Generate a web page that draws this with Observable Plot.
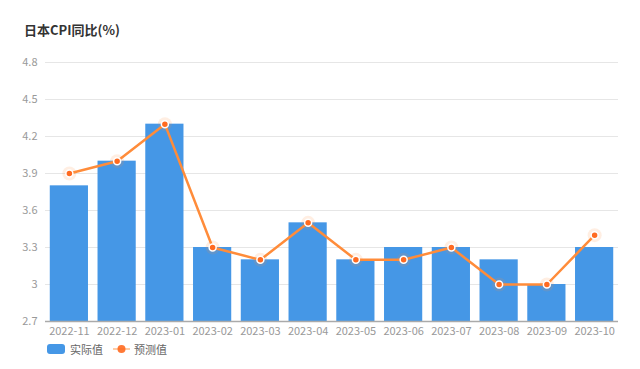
<!DOCTYPE html>
<html><head><meta charset="utf-8">
<script src="https://cdn.jsdelivr.net/npm/d3@7"></script>
<script src="https://cdn.jsdelivr.net/npm/@observablehq/plot@0.6"></script>
<style>
body{margin:0;background:#fff;font-family:"Noto Sans CJK SC","Noto Sans",sans-serif;}
#wrap{position:relative;width:640px;height:369px;overflow:hidden;}
#title{position:absolute;left:24px;top:20px;font-size:13px;font-weight:bold;color:#333;}
#legend{position:absolute;left:47px;top:341px;font-size:11px;color:#666;display:flex;align-items:center;}
#legend .sw{width:18px;height:10px;border-radius:3px;background:#4597e6;display:inline-block;margin-right:5px;}
#legend svg{margin:0 4px 0 10px;}
</style></head>
<body><div id="wrap"><div id="chart"></div><div id="title">日本CPI同比(%)</div>
<div id="legend"><span class="sw"></span><span>实际值</span>
<svg width="17" height="10"><line x1="0" y1="5" x2="17" y2="5" stroke="#ff8c3a" stroke-width="1.5" opacity="0.6"/><circle cx="8.5" cy="5" r="4" fill="#ff6a20" opacity="0.9"/></svg><span>预测值</span></div>
</div>
<script>
const months = ["2022-11","2022-12","2023-01","2023-02","2023-03","2023-04","2023-05","2023-06","2023-07","2023-08","2023-09","2023-10"];
const actual = [3.8,4.0,4.3,3.3,3.2,3.5,3.2,3.3,3.3,3.2,3.0,3.3];
const forecast = [3.9,4.0,4.3,3.3,3.2,3.5,3.2,3.2,3.3,3.0,3.0,3.4];
const yTicks = [2.7,3.0,3.3,3.6,3.9,4.2,4.5,4.8];

const data = months.map((m,i)=>({m, a:actual[i], f:forecast[i]}));

const chart = Plot.plot({
  width:640, height:369,
  marginTop:62, marginBottom:48, marginLeft:45, marginRight:22,
  style:{fontFamily:'"Noto Sans CJK SC","Noto Sans",sans-serif', fontSize:"11px", color:"#999", background:"#fff"},
  x:{domain:months, paddingInner:0.2, paddingOuter:0.1, round:false, label:null, tickSize:0, tickPadding:6},
  y:{domain:[2.7,4.8], ticks:yTicks, tickFormat:d=>String(+d.toFixed(1)), label:null, tickSize:0, tickPadding:8},
  marks:[
    Plot.gridY(yTicks.slice(1), {stroke:"#e6e6e6", strokeOpacity:1, strokeWidth:1}),
    Plot.barY(data, {x:"m", y1:2.7, y2:"a", fill:"#4597e6"}),
    Plot.ruleY([2.7], {stroke:"#aaa", strokeWidth:1.5}),
    Plot.line(data, {x:"m", y:"f", stroke:"#ff8c3a", strokeWidth:2.5, curve:"linear"}),
    Plot.dot(data, {x:"m", y:"f", r:7, fill:"#ff8c3a", fillOpacity:0.15, stroke:null}),
    Plot.dot(data, {x:"m", y:"f", r:3.5, fill:"#ff6a20", stroke:"#fff", strokeWidth:1.5})
  ]
});
chart.querySelectorAll('[aria-label="x-axis tick label"] text, [aria-label="y-axis tick label"] text').forEach(t=>t.setAttribute("fill","#999"));
document.getElementById("chart").appendChild(chart);
</script></body></html>
